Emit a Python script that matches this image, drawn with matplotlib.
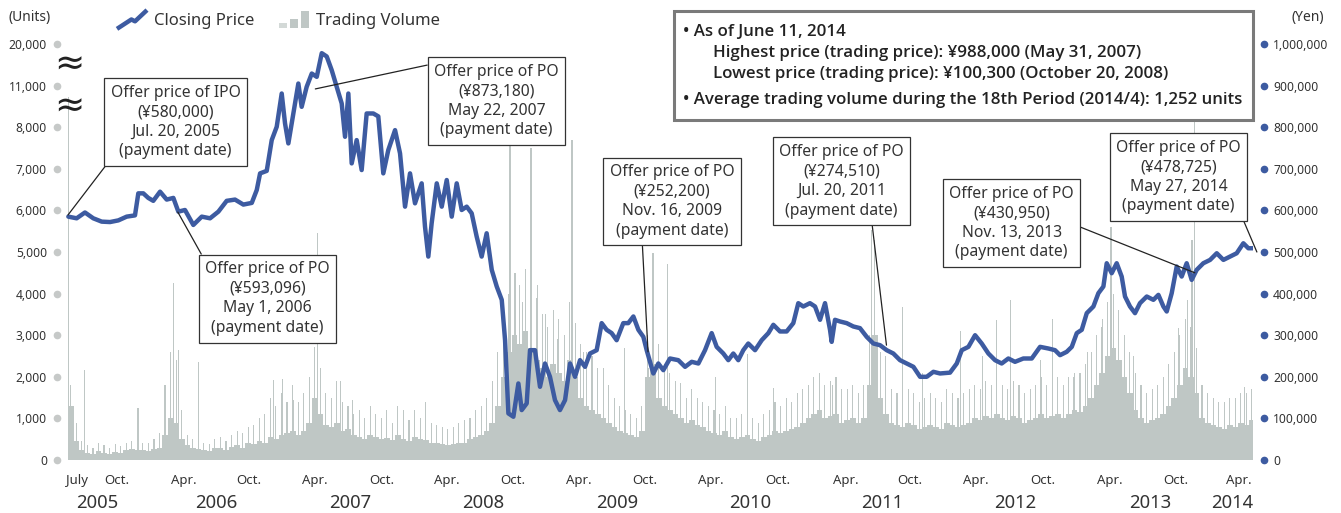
import numpy as np
import matplotlib
matplotlib.use("Agg")
import matplotlib.pyplot as plt
from matplotlib.legend_handler import HandlerBase
from matplotlib.lines import Line2D
from matplotlib.patches import Rectangle

plt.rcParams['font.family'] = ['Noto Sans', 'DejaVu Sans']

# closing price: x = months after the IPO (Jul. 20, 2005), y = thousand yen
price_month = [0.03, 0.78, 1.53, 2.28, 3.04, 3.79, 4.54, 5.29, 6.04, 6.34, 6.79, 7.24, 7.69, 8.30, 8.90,
               9.50, 9.95, 10.55, 11.30, 12.06, 12.81, 13.56, 14.31, 15.06, 15.81, 16.57, 17.02, 17.32,
               17.92, 18.37, 18.82, 19.27, 19.57, 19.87, 20.32, 20.77, 21.07, 21.52, 21.98, 22.43, 22.88,
               23.33, 23.78, 24.23, 24.68, 24.98, 25.28, 25.58, 26.03, 26.48, 26.93, 27.53, 27.98, 28.43,
               28.88, 29.49, 29.94, 30.39, 30.84, 31.29, 31.89, 32.19, 32.49, 32.79, 33.25, 33.70, 34.15,
               34.60, 35.05, 35.50, 35.95, 36.40, 36.85, 37.30, 37.75, 38.21, 38.66, 39.11, 39.41, 39.71,
               40.16, 40.61, 40.91, 41.36, 41.66, 42.11, 42.56, 43.01, 43.46, 43.91, 44.36, 44.82, 45.27,
               45.72, 46.17, 46.62, 47.07, 47.67, 48.12, 48.57, 49.02, 49.47, 50.07, 50.52, 50.98, 51.43,
               51.88, 52.18, 52.78, 53.23, 53.68, 54.28, 55.03, 55.64, 56.24, 56.84, 57.44, 58.04, 58.49,
               59.09, 59.54, 59.99, 60.44, 60.89, 61.34, 61.95, 62.55, 63.15, 63.60, 64.20, 64.80, 65.40,
               65.85, 66.30, 66.90, 67.36, 67.81, 68.26, 68.71, 68.86, 69.16, 69.61, 70.21, 70.81, 71.41,
               72.02, 72.62, 73.22, 73.82, 74.42, 75.02, 75.63, 76.23, 76.83, 77.43, 78.03, 78.63, 79.53,
               80.14, 80.59, 81.19, 81.79, 82.39, 82.99, 83.59, 84.19, 84.79, 85.39, 86.14, 86.90, 87.65,
               88.40, 89.00, 89.45, 90.05, 90.51, 90.96, 91.41, 91.86, 92.46, 92.91, 93.36, 93.66, 94.11,
               94.56, 95.01, 95.31, 95.76, 96.21, 96.66, 97.27, 97.87, 98.32, 98.77, 99.07, 99.52, 99.97,
               100.42, 100.87, 101.32, 101.77, 102.37, 102.98, 103.58, 104.18, 104.78, 105.38, 105.98,
               106.43, 106.88]
price_kyen = [585, 581, 595, 581, 573, 572, 576, 585, 588, 641, 641, 630, 623, 645, 626,
              630, 597, 601, 565, 585, 581, 597, 623, 626, 614, 618, 649, 689,
              695, 769, 801, 881, 809, 761, 833, 905, 849, 897, 929, 921, 978,
              970, 937, 897, 857, 777, 881, 713, 769, 697, 833, 833, 826, 689,
              745, 793, 737, 609, 689, 617, 665, 561, 489, 569, 665, 609, 673,
              585, 665, 601, 609, 593, 537, 489, 545, 457, 417, 385, 288, 112,
              104, 184, 120, 136, 264, 264, 176, 232, 200, 144, 120, 144, 232,
              200, 240, 224, 256, 264, 329, 313, 305, 288, 329, 329, 345, 313,
              296, 264, 208, 232, 216, 244, 240, 224, 236, 232, 264, 305, 272,
              256, 240, 256, 240, 264, 280, 264, 288, 305, 325, 309, 309, 329,
              377, 369, 377, 369, 337, 377, 313, 284, 337, 333, 329, 321, 317,
              296, 280, 276, 264, 256, 240, 232, 224, 200, 200, 212, 208, 210,
              232, 264, 272, 300, 280, 256, 240, 232, 244, 236, 244, 244, 272,
              268, 264, 252, 260, 272, 305, 313, 353, 369, 401, 417, 473, 449,
              473, 441, 393, 369, 353, 377, 393, 385, 397, 369, 357, 401, 465,
              441, 473, 433, 457, 473, 481, 497, 481, 489, 497, 521,
              509, 509]

# typical daily trading volume for each half month (units)
vol_base = [1300, 450, 250, 180, 150, 220, 160, 140, 200, 170, 230, 260,
            250, 230, 220, 260, 300, 600, 1000, 900, 500, 350, 300, 260,
            250, 220, 280, 300, 250, 320, 350, 300, 400, 380, 450, 420,
            550, 500, 600, 650, 700, 600, 700, 900, 1500, 1100, 850, 800,
            900, 700, 750, 600, 550, 500, 600, 550, 500, 520, 480, 600,
            500, 450, 550, 500, 480, 420, 400, 380, 350, 380, 400, 420,
            500, 550, 600, 700, 900, 1300, 2000, 2600, 3000, 2800, 3100, 2700,
            2400, 2200, 2000, 2300, 2100, 1900, 2400, 2000, 1500, 1300, 1200, 1100,
            1000, 900, 800, 700, 650, 600, 550, 700, 2000, 2300, 1500, 1300,
            1200, 1100, 1000, 900, 950, 850, 800, 700, 650, 600, 700, 550,
            500, 550, 600, 500, 450, 550, 600, 700, 650, 700, 750, 800,
            900, 1000, 1100, 1200, 1000, 1050, 1100, 900, 950, 1000, 900, 1000,
            1800, 3000, 1500, 1100, 900, 850, 800, 900, 850, 750, 800, 850,
            800, 750, 900, 850, 800, 850, 900, 1000, 950, 1050, 1000, 1100,
            1000, 950, 1050, 1000, 900, 950, 1000, 1100, 1000, 1050, 1100, 1000,
            1100, 1200, 1150, 1300, 1500, 1800, 2100, 2500, 2700, 2400, 2000, 1600,
            1200, 1000, 900, 950, 1000, 1100, 1300, 1500, 1800, 2200, 2000, 1600,
            1000, 900, 850, 800, 750, 850, 800, 900, 850, 950]

# busiest day within each half month (units)
vol_peak = [1800, 900, 450, 350, 300, 400, 350, 300, 380, 330, 420, 450,
            1250, 420, 400, 500, 650, 1800, 2600, 2400, 1200, 600, 500, 450,
            420, 380, 500, 550, 450, 600, 700, 650, 800, 850, 1000, 1100,
            1500, 1300, 1600, 1400, 1800, 1400, 1600, 2000, 2700, 2200, 1600, 1500,
            1900, 1400, 1300, 1100, 1200, 1000, 1300, 1100, 1000, 1200, 900, 1300,
            1100, 950, 1200, 1000, 1100, 900, 850, 800, 750, 800, 900, 950,
            1000, 1200, 1300, 1500, 1900, 2600, 3300, 4000, 4500, 4200, 4600, 4000,
            3900, 3500, 3200, 3600, 3400, 3000, 3800, 3300, 2800, 2600, 2500, 2200,
            2000, 1800, 1500, 1300, 1200, 1100, 1000, 1300, 3000, 3500, 2800, 2300,
            2100, 1900, 1800, 1500, 1700, 1500, 1400, 1300, 1200, 1100, 1300, 1000,
            1000, 1100, 1200, 1000, 900, 1100, 1200, 1400, 1300, 1500, 1400, 1600,
            1700, 1800, 2000, 2100, 1800, 1900, 2000, 1700, 1700, 1800, 1600, 1800,
            3000, 4200, 2600, 2000, 1700, 1600, 1500, 1700, 1600, 1400, 1500, 1600,
            1500, 1400, 1700, 1600, 1500, 1600, 1700, 1800, 1700, 1900, 1800, 2000,
            1800, 1700, 1900, 1800, 1600, 1700, 1800, 2000, 1800, 1900, 2000, 1800,
            2000, 2100, 2100, 2300, 2600, 3000, 3400, 3800, 4000, 3600, 3000, 2600,
            2100, 1800, 1600, 1700, 1800, 2000, 2300, 2600, 3000, 3400, 3200, 2700,
            1800, 1600, 1500, 1400, 1400, 1500, 1500, 1600, 1600, 1700]

# single days with heavy volume
spike_month = [0.0, 1.4, 6.3, 9.45, 9.9, 11.7, 18.5, 19.3, 20.3, 22.2, 22.45, 24.5,
               25.6, 30.2, 32.2, 37.2, 38.7, 39.8, 40.3, 40.9, 41.7, 42.3, 43.0, 44.1,
               45.4, 46.4, 48.2, 50.1, 52.3, 52.7, 54.0, 55.2, 58.3, 61.2, 63.6, 68.9,
               72.4, 72.7, 73.7, 75.2, 77.0, 80.4, 82.4, 83.7, 84.9, 87.6, 88.7, 90.6,
               91.9, 93.1, 93.7, 94.0, 94.2, 96.0, 100.1, 100.9, 101.3, 101.5, 106.0]
spike_units = [10200, 2160, 1250, 4250, 2640, 2360, 1920, 1950, 1440, 2720, 5450, 1900,
               1440, 1200, 1400, 1300, 1770, 7700, 4500, 3800, 7500, 4200, 3500, 2900,
               7700, 2600, 2200, 2700, 2200, 4970, 4700, 1850, 2000, 2560, 1730, 1800,
               5530, 5300, 2500, 3680, 2100, 3100, 2500, 3370, 3850, 2400, 3400, 2000,
               2600, 3200, 3600, 5600, 3200, 2500, 3170, 3850, 5300, 9000, 1760]

month_labels = ['July', 'Oct.', 'Apr.', 'Oct.', 'Apr.', 'Oct.', 'Apr.', 'Oct.', 'Apr.', 'Oct.',
                'Apr.', 'Oct.', 'Apr.', 'Oct.', 'Apr.', 'Oct.', 'Apr.', 'Oct.', 'Apr.']
month_pos = [0.8, 4.4, 10.4, 16.3, 22.3, 28.3, 34.2, 40.1, 46.1, 52.0,
             58.0, 64.0, 70.1, 75.9, 81.9, 87.9, 93.9, 99.9, 105.6]
year_labels = ['2005', '2006', '2007', '2008', '2009', '2010', '2011', '2012', '2013', '2014']
year_pos = [2.6, 13.4, 25.4, 37.4, 49.5, 61.5, 73.4, 85.4, 97.6, 105.0]

left_ticks = [0, 1000, 2000, 3000, 4000, 5000, 6000, 7000, 8000, 11000, 20000]
right_ticks = list(range(0, 1000001, 100000))

ann_text = ["Offer price of IPO\n(¥580,000)\nJul. 20, 2005\n(payment date)",
            "Offer price of PO\n(¥593,096)\nMay 1, 2006\n(payment date)",
            "Offer price of PO\n(¥873,180)\nMay 22, 2007\n(payment date)",
            "Offer price of PO\n(¥252,200)\nNov. 16, 2009\n(payment date)",
            "Offer price of PO\n(¥274,510)\nJul. 20, 2011\n(payment date)",
            "Offer price of PO\n(¥430,950)\nNov. 13, 2013\n(payment date)",
            "Offer price of PO\n(¥478,725)\nMay 27, 2014\n(payment date)"]
ann_month = [0.0, 9.9, 22.3, 52.3, 73.8, 101.6, 107.2]
ann_yen = [589000, 596000, 892000, 260000, 276000, 450000, 500000]
box_month = [9.69, 17.99, 38.64, 54.46, 69.75, 85.08, 100.14]
box_yen = [812600, 388200, 863000, 621400, 669500, 569700, 680300]
box_relpos = [(0, 0), (0, 1), (0, 1), (0.26, 0), (0.74, 0), (1, 0.48), (1, 0)]

info_lines = ["• As of June 11, 2014",
              "Highest price (trading price): ¥988,000 (May 31, 2007)",
              "Lowest price (trading price): ¥100,300 (October 20, 2008)",
              "• Average trading volume during the 18th Period (2014/4): 1,252 units"]

BLUE = '#3d5ba1'
GRAY = '#bfc7c5'
TXT = '#333333'
W, H = 1341, 513

# broken volume axis: 0-8,000 linear, then 11,000 and 20,000 one step each
VOL_BREAKS = [-1e5, 0, 8000, 11000, 20000, 2e5]
POS_BREAKS = [-1e5, 0, 8000, 9000, 10000, 30000]


def fwd(v):
    return np.interp(v, VOL_BREAKS, POS_BREAKS)


def inv(p):
    return np.interp(p, POS_BREAKS, VOL_BREAKS)


class ZigzagHandler(HandlerBase):
    def create_artists(self, legend, orig_handle, xdescent, ydescent, width, height, fontsize, trans):
        xs = [-xdescent + width * f for f in (0, 0.48, 0.6, 1.0)]
        ys = [-ydescent + height * f for f in (-0.05, 0.5, 0.39, 1.05)]
        ln = Line2D(xs, ys, color=BLUE, lw=3.2, solid_capstyle='butt')
        ln.set_transform(trans)
        return [ln]


class BarsHandler(HandlerBase):
    def create_artists(self, legend, orig_handle, xdescent, ydescent, width, height, fontsize, trans):
        out = []
        for x0, h, c in ((0, 0.27, '#d3d9d7'), (0.36, 0.55, GRAY), (0.72, 1.0, GRAY)):
            r = Rectangle((-xdescent + width * x0, -ydescent), width * 0.27, height * h,
                          fc=c, lw=0, transform=trans)
            out.append(r)
        return out


fig = plt.figure(figsize=(W / 100, H / 100), dpi=100)
ax = fig.add_axes([66 / W, (H - 463) / H, (1253 - 66) / W, (463 - 30) / H])
ax.set_yscale('function', functions=(fwd, inv))
axp = ax.twinx()

# volume
half = np.arange(len(vol_base)) * 0.5
ax.bar(half, vol_base, width=0.52, align='edge', color=GRAY, lw=0)
ax.bar(half + 0.2, vol_peak, width=0.1, align='edge', color=GRAY, lw=0)
ax.bar(spike_month, spike_units, width=0.1, align='edge', color=GRAY, lw=0)

# price
axp.plot(price_month, np.array(price_kyen) * 1000, color=BLUE, lw=3.2,
         solid_joinstyle='round', solid_capstyle='round')

ax.set_xlim(-0.18, 106.85)
ax.set_ylim(inv(-72.1), inv(10336.5))
axp.set_ylim(-7212, 1033654)

for a in (ax, axp):
    for s in a.spines.values():
        s.set_visible(False)

ax.set_yticks(left_ticks, [f'{v:,}' for v in left_ticks])
ax.tick_params(axis='y', length=0, pad=13.7, labelsize=8.7, labelcolor=TXT)
axp.set_yticks(right_ticks, [f'{v:,}' for v in right_ticks])
axp.tick_params(axis='y', length=0, pad=14.4, labelsize=8.7, labelcolor=TXT)
ax.set_xticks(month_pos, month_labels)
ax.tick_params(axis='x', length=0, pad=8, labelsize=9.5, labelcolor=TXT)

# dot tick marks
ax.plot([-9 / 1187] * len(left_ticks), left_ticks, 'o', ms=4.5, color='#c6c9c8',
        transform=ax.get_yaxis_transform(), clip_on=False)
axp.plot([1 + 11 / 1187] * len(right_ticks), right_ticks, 'o', ms=4.5, color=BLUE,
         transform=axp.get_yaxis_transform(), clip_on=False)

# axis break marks
for yv in (15500, 9500):
    ax.text(0.0025, yv, '≈', transform=ax.get_yaxis_transform(), ha='center', va='center',
            fontsize=26, color='#222222', family=['DejaVu Sans'])

for lab, xp in zip(year_labels, year_pos):
    ax.text(xp, -0.0924, lab, transform=ax.get_xaxis_transform(), ha='center', va='center',
            fontsize=13.3, color=TXT)

fig.text(30 / W, 1 - 17 / H, '(Units)', ha='center', va='center', fontsize=10, color=TXT)
fig.text(1308 / W, 1 - 17 / H, '(Yen)', ha='center', va='center', fontsize=10, color=TXT)

# annotation boxes
for t, am, ay, bm, by, rp in zip(ann_text, ann_month, ann_yen, box_month, box_yen, box_relpos):
    axp.annotate(t, xy=(am, ay), xytext=(bm, by), textcoords='data', ha='center', va='center',
                 fontsize=11.3, linespacing=1.3, color=TXT, zorder=5, annotation_clip=False,
                 bbox=dict(boxstyle='square,pad=0.42', fc='white', ec='#333333', lw=0.9),
                 arrowprops=dict(arrowstyle='-', color='#222222', lw=0.9, relpos=rp,
                                 shrinkA=0, shrinkB=0))

# info box
fig.add_artist(Rectangle((674 / W, 1 - 120 / H), 579 / W, 109 / H, transform=fig.transFigure,
                         fc='white', ec='#7a7a7a', lw=2.2))
info_xy = [(683, 32), (713, 53), (713, 74), (683, 100)]
for txt, (xp, yp) in zip(info_lines, info_xy):
    fig.text(xp / W, 1 - yp / H, txt, ha='left', va='center', fontsize=12.15,
             family=['Open Sans', 'Noto Sans', 'DejaVu Sans'], fontweight='semibold',
             color='#222222')

# legend
handles = [Line2D([], [], color=BLUE), Rectangle((0, 0), 1, 1, color=GRAY)]
fig.legend(handles, ['Closing Price', 'Trading Volume'],
           handler_map={Line2D: ZigzagHandler(), Rectangle: BarsHandler()},
           loc='center left', bbox_to_anchor=(117 / W, 1 - 20 / H), ncol=2, frameon=False,
           fontsize=12, handlelength=1.8, handleheight=1.2, handletextpad=0.4,
           columnspacing=1.5, borderpad=0, borderaxespad=0, labelcolor=TXT)

fig.savefig('out.png', dpi=100)
